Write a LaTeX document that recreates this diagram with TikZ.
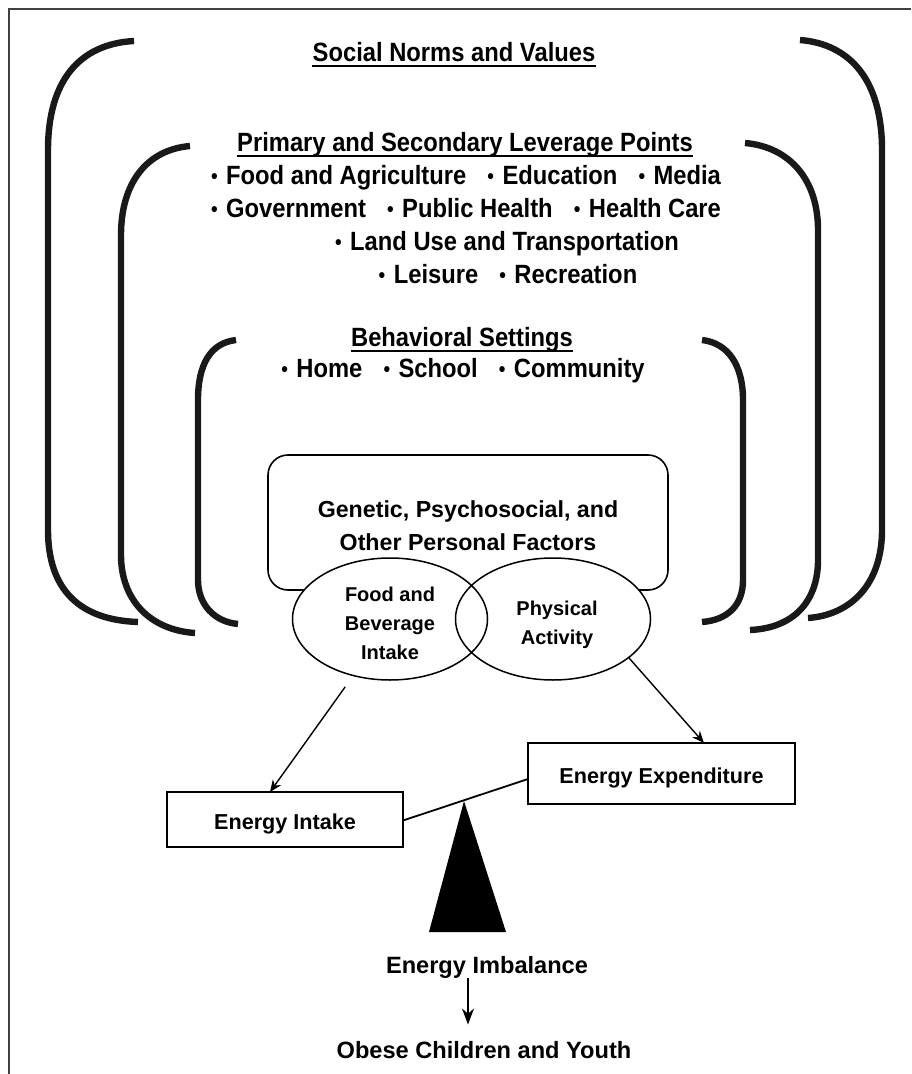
\documentclass[tikz,border=0pt]{standalone}
\usepackage{fontspec}
\setmainfont{Liberation Sans}
\newfontfamily\narrowsans{Liberation Sans}[FakeStretch=0.9]
\usetikzlibrary{arrows.meta,shapes.geometric}
\newcommand{\dotitem}{\raisebox{0.9pt}{\fontsize{10.5}{10}\selectfont\textbullet}\hspace{0.32em}}
\newcommand{\itemgap}{\hspace{0.8em}}
\begin{document}
\begin{tikzpicture}[x=0.5pt, y=-0.5pt]
\tikzset{
    brace/.style= {line width=3.2pt, black!90},
    head/.style= {anchor=base, inner sep=0pt, font=\narrowsans\fontsize{13.2}{15}\selectfont\bfseries},
    tail/.style= {anchor=base, inner sep=0pt, font=\fontsize{11.8}{14}\selectfont\bfseries},
    uline/.style= {line width=1.1pt},
    pfbox/.style= {draw, rounded corners=10pt, line width=0.8pt, minimum width=200pt, minimum height=67.5pt, inner sep=0pt, outer sep=0pt},
    ptext/.style= {align=center, inner sep=0pt, font=\fontsize{11.6}{16.5}\selectfont\bfseries},
    venn/.style= {ellipse, draw, line width=0.75pt, minimum width=97.5pt, minimum height=61pt, inner sep=0pt, outer sep=0pt},
    vtext/.style= {align=center, inner sep=0pt, font=\fontsize{10}{14.5}\selectfont\bfseries},
    ebox/.style= {draw, line width=1pt, inner sep=0pt, outer sep=0pt, text height=10pt, text depth=0pt, font=\fontsize{10.8}{13}\selectfont\bfseries},
    earr/.style= {-{Stealth[length=6pt,width=5pt]}, line width=0.7pt},
}
\useasboundingbox (0,0) rectangle (911,1074);
\draw[line width=1pt, black!75] (9,1074) -- (9,9) -- (911,9);

% brackets, outer to inner
\draw[brace] (134,41) .. controls (80,44) and (48,80) .. (48,150) -- (48,530) .. controls (48,590) and (80,620) .. (138,622);
\draw[brace] (190,146) .. controls (145,150) and (121,185) .. (121,235) -- (121,555) .. controls (121,600) and (150,630) .. (195,633);
\draw[brace] (236,340) .. controls (210,343) and (198,365) .. (198,400) -- (198,580) .. controls (198,605) and (215,622) .. (238,624);
\draw[brace] (800,40) .. controls (850,44) and (882,80) .. (882,150) -- (882,530) .. controls (882,585) and (850,615) .. (808,618);
\draw[brace] (745,143) .. controls (790,147) and (818,180) .. (818,230) -- (818,560) .. controls (818,600) and (795,628) .. (750,630);
\draw[brace] (702,340) .. controls (728,343) and (743,365) .. (743,400) -- (743,580) .. controls (743,605) and (728,620) .. (702,622);

\node[head] (sn) at (454,62) {Social Norms and Values};
\node[head] (lp) at (465,152) {Primary and Secondary Leverage Points};
\node[head] (lp1) at (466,185) {\dotitem Food and Agriculture\itemgap\dotitem Education\itemgap\dotitem Media};
\node[head] (lp2) at (466,218) {\dotitem Government\itemgap\dotitem Public Health\itemgap\dotitem Health Care};
\node[head] (lp3) at (507,251) {\dotitem Land Use and Transportation};
\node[head] (lp4) at (508,284) {\dotitem Leisure\itemgap\dotitem Recreation};
\node[head] (bs) at (462,347) {Behavioral Settings};
\node[head] (bs1) at (463,378) {\dotitem Home\itemgap\dotitem School\itemgap\dotitem Community};

\foreach \h in {sn, lp, bs}
    \draw[uline] ([yshift=-2pt]\h.base west) -- ([yshift=-2pt]\h.base east);

\node[pfbox] (pf) at (468,522.5) {};
\node[ptext] (pft) at ([yshift=-1.75pt]pf.center) {Genetic, Psychosocial, and\\Other Personal Factors};

\fill[white] (390,619) ellipse (97.5 and 61);
\fill[white] (553,619) ellipse (97.5 and 61);
\node[venn] (fb) at (390,619) {};
\node[venn] (pa) at (553,619) {};
\node[vtext] (fbt) at ([yshift=-2.35pt]fb.center) {Food and\\Beverage\\Intake};
\node[vtext] (pat) at ([xshift=2pt, yshift=-2.9pt]pa.center) {Physical\\Activity};

\node[ebox, minimum width=118pt, minimum height=27.5pt] (ei) at (285,819.5) {Energy Intake};
\node[ebox, minimum width=133.5pt, minimum height=30.5pt] (ee) at (661.5,773.5) {Energy Expenditure};

\draw[earr, shorten <=7pt] (fb.-123) -- ([xshift=-7.5pt]ei.north);
\draw[earr] (pa.-27) -- ([xshift=21.25pt]ee.north);
\draw[line width=0.9pt] ([yshift=-0.5pt]ei.east) -- ([yshift=-2.75pt]ee.west);

\fill[black] (464,801) -- (429,932) -- (506,932) -- cycle;

\node[tail] (ib) at (487,973) {Energy Imbalance};
\node[tail] (oc) at (484,1058) {Obese Children and Youth};
\draw[-{Stealth[length=8pt,width=6pt]}, line width=0.7pt, shorten >=8pt] ([xshift=-9.5pt]ib.south) -- ([xshift=-8pt]oc.north);
\end{tikzpicture}
\end{document}
